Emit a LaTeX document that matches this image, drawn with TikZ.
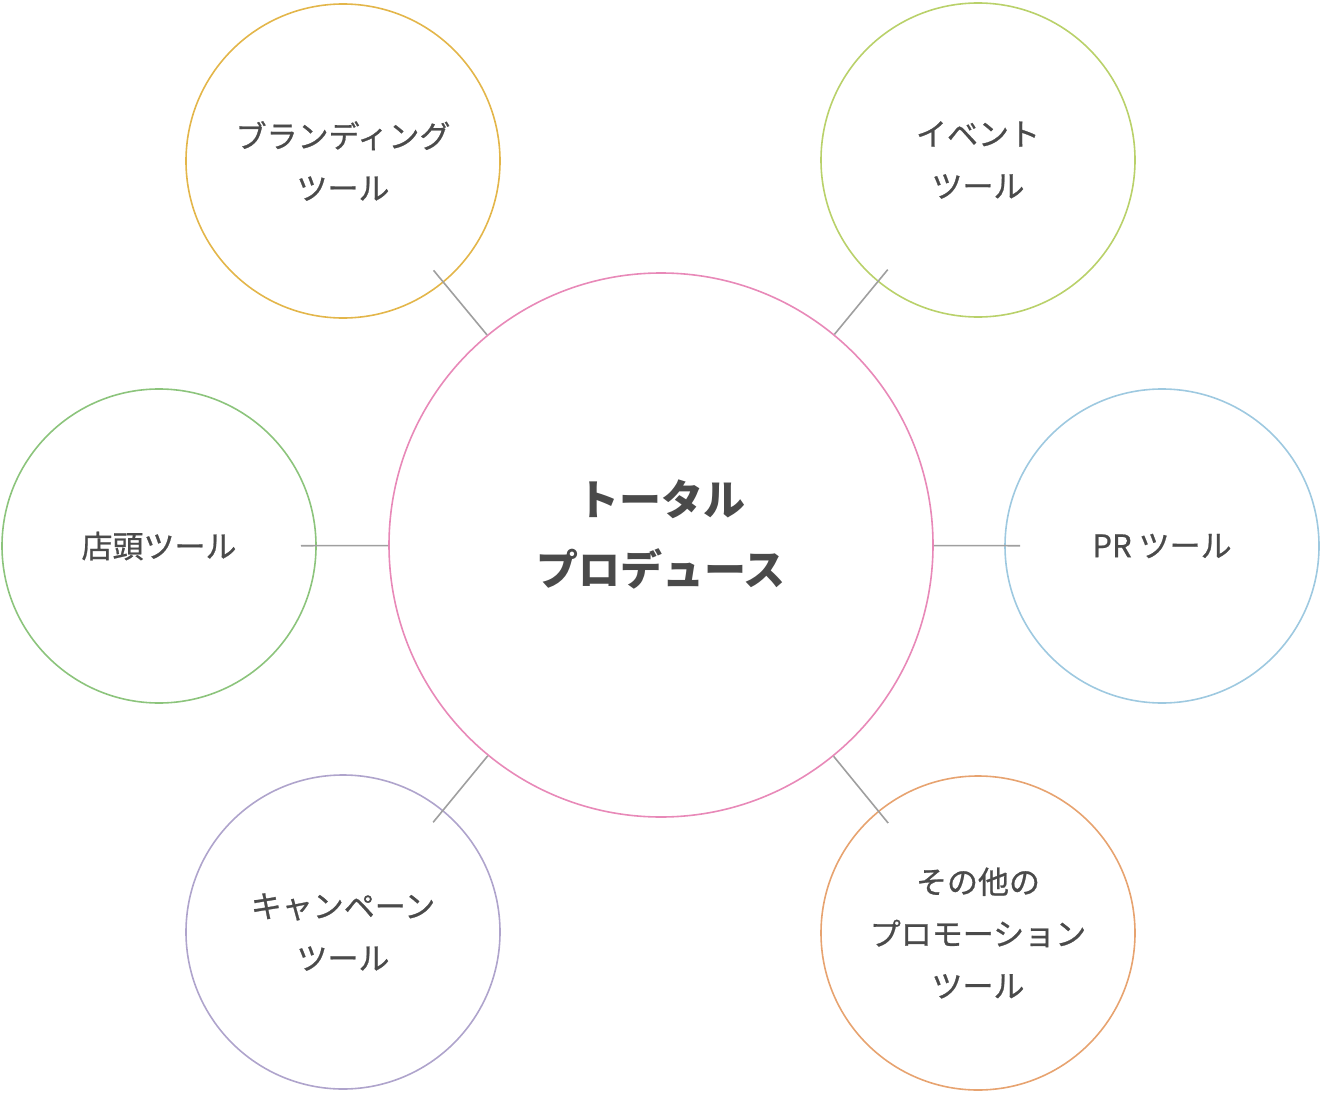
\documentclass[tikz,border=0pt]{standalone}
\usepackage{fontspec}
\setmainfont{Noto Sans CJK JP}
\newfontfamily\medfont[FakeBold=0.8]{Noto Sans CJK JP}
\usetikzlibrary{calc}
\definecolor{tx}{HTML}{4A4A4A}
\definecolor{cpink}{HTML}{E889B8}
\definecolor{cbrand}{HTML}{E3B64A}
\definecolor{cevent}{HTML}{B9D16A}
\definecolor{cstore}{HTML}{8CC47C}
\definecolor{cpr}{HTML}{9EC9E0}
\definecolor{ccamp}{HTML}{AFA4CC}
\definecolor{cother}{HTML}{E7A370}
\tikzset{
 small/.style={circle,draw=#1,line width=1.6pt,minimum size=314pt,inner sep=0pt,text=tx,align=center,font=\medfont\fontsize{31pt}{52pt}\selectfont},
 big/.style={circle,draw=cpink,line width=1.6pt,minimum size=544pt,inner sep=0pt,text=tx,align=center,font=\bfseries\fontsize{42pt}{70pt}\selectfont},
 conn/.style={draw=gray!75,line width=1.6pt}
}
\begin{document}
\begin{tikzpicture}[x=1pt,y=-1pt]
\useasboundingbox (0,0) rectangle (1322,1094);
\node[big] (c) at (661,545) {};
\node[text=tx,align=center,font=\bfseries\fontsize{42pt}{70pt}\selectfont] (ct) at (661,535) {トータル\\プロデュース};
\node[small=cbrand] (b) at (343,161) {ブランディング\\ツール};
\node[small=cevent] (e) at (978,160) {イベント\\ツール};
\node[small=cstore] (s) at (159,546) {店頭ツール};
\node[small=cpr] (p) at (1162,546) {PR ツール};
\node[small=ccamp] (k) at (343,932) {キャンペーン\\ツール};
\node[small=cother] (o) at (978,933) {その他の\\プロモーション\\ツール};
\foreach \n in {b,e,s,p,k,o}{
 \coordinate (\n s) at ($(\n.center)!142pt!(c.center)$);
 \draw[conn] (\n s) -- (c);
}
\end{tikzpicture}
\end{document}
